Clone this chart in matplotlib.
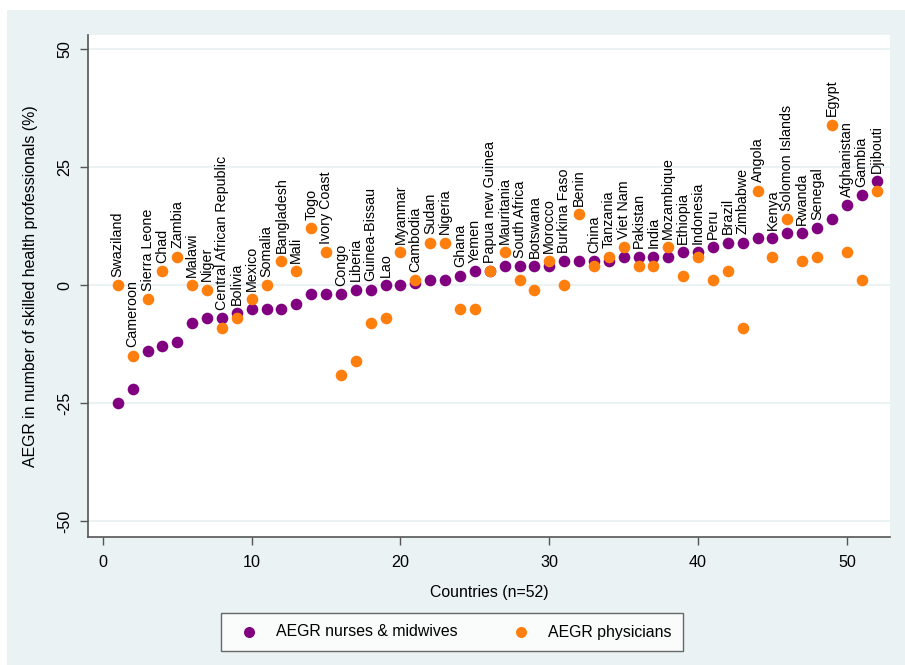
import numpy as np
import matplotlib
matplotlib.use("Agg")
import matplotlib.pyplot as plt
from matplotlib.patches import Rectangle

plt.rcParams['font.family'] = ['Liberation Sans', 'DejaVu Sans']

countries = ["Swaziland", "Cameroon", "Sierra Leone", "Chad", "Zambia", "Malawi", "Niger",
             "Central African Republic", "Bolivia", "Mexico", "Somalia", "Bangladesh", "Mali",
             "Togo", "Ivory Coast", "Congo", "Liberia", "Guinea-Bissau", "Lao", "Myanmar",
             "Cambodia", "Sudan", "Nigeria", "Ghana", "Yemen", "Papua new Guinea", "Mauritania",
             "South Africa", "Botswana", "Morocco", "Burkina Faso", "Benin", "China", "Tanzania",
             "Viet Nam", "Pakistan", "India", "Mozambique", "Ethiopia", "Indonesia", "Peru",
             "Brazil", "Zimbabwe", "Angola", "Kenya", "Solomon Islands", "Rwanda", "Senegal",
             "Egypt", "Afghanistan", "Gambia", "Djibouti"]
nurses = [-25, -22, -14, -13, -12, -8, -7, -7, -6, -5, -5, -5, -4, -2, -2, -2, -1, -1, 0, 0,
          0.5, 1, 1, 2, 3, 3, 4, 4, 4, 4, 5, 5, 5, 5, 6, 6, 6, 6, 7, 7, 8, 9, 9, 10, 10, 11,
          11, 12, 14, 17, 19, 22]
physicians = [0, -15, -3, 3, 6, 0, -1, -9, -7, -3, 0, 5, 3, 12, 7, -19, -16, -8, -7, 7,
              1, 9, 9, -5, -5, 3, 7, 1, -1, 5, 0, 15, 4, 6, 8, 4, 4, 8, 2, 6, 1, 3, -9, 20,
              6, 14, 5, 6, 34, 7, 1, 20]
yticks = [-50, -25, 0, 25, 50]
xticks = [0, 10, 20, 30, 40, 50]

bg = "#eaf2f3"
purple = "#800080"
orange = "#ff7f0e"

fig = plt.figure(figsize=(9.05, 6.65), dpi=100)
fig.patch.set_facecolor("white")
fig.add_artist(Rectangle((7 / 905, 0), 1, 1 - 10 / 665, transform=fig.transFigure,
                         facecolor=bg, edgecolor="none", zorder=-10))

ax = fig.add_axes([88 / 905, 1 - 537 / 665, (890 - 88) / 905, (537 - 35) / 665])
ax.set_facecolor("white")

x = np.arange(1, len(countries) + 1)
ax.scatter(x, nurses, s=70, color=purple, zorder=3, label="AEGR nurses & midwives", linewidths=0)
ax.scatter(x, physicians, s=70, color=orange, zorder=4, label="AEGR physicians", linewidths=0)

# label each country above the higher of its two points
for xi, name, n, p in zip(x, countries, nurses, physicians):
    ax.annotate(name, (xi, max(n, p)), xytext=(0, 6), textcoords="offset points",
                rotation=90, ha="center", va="bottom", fontsize=10.3, zorder=5)

ax.set_xlim(-1, 52.9)
ax.set_ylim(-53.4, 53)
ax.set_yticks(yticks)
ax.set_xticks(xticks)
ax.set_yticklabels([str(v) for v in yticks], rotation=90, va="center")
ax.tick_params(axis="both", labelsize=11.6, color="#555555", length=6, width=1)
ax.tick_params(axis="x", pad=7)
ax.tick_params(axis="y", pad=5)
ax.grid(axis="y", color=bg, linewidth=1.5, zorder=0)
ax.set_axisbelow(True)
for side in ["top", "right"]:
    ax.spines[side].set_visible(False)
for side in ["left", "bottom"]:
    ax.spines[side].set_color("#555555")
    ax.spines[side].set_linewidth(1.2)

ax.set_xlabel("Countries (n=52)", fontsize=11.4, labelpad=11)
ax.set_ylabel("AEGR in number of skilled health professionals (%)", fontsize=11.4, labelpad=14)

leg = fig.legend(loc="center", bbox_to_anchor=(452 / 905, 1 - 632 / 665), ncol=2,
                 fontsize=11.4, frameon=True, fancybox=False, columnspacing=3.0,
                 handletextpad=0.7, markerscale=0.95, borderpad=0.75)
leg.get_frame().set_edgecolor("#444444")
leg.get_frame().set_linewidth(1)

fig.savefig("out.png", dpi=100, facecolor=fig.get_facecolor())
